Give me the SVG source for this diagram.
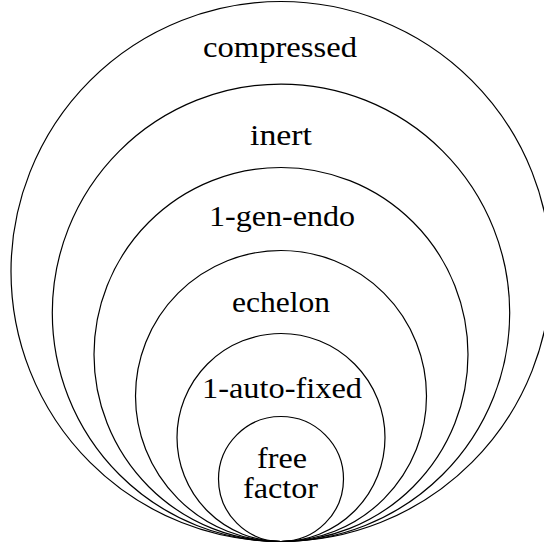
<svg xmlns="http://www.w3.org/2000/svg" width="544" height="547" viewBox="0 0 544 547">
<style>
.c{fill:none;stroke:#000;stroke-width:1.2}
.t{font-size:30px;fill:#000;text-anchor:middle}
</style>
<rect width="544" height="547" fill="#fff"/>
<g font-family="Liberation Serif, DejaVu Serif, Times New Roman, serif">
<g id="compressed"><circle class="c" cx="281" cy="271.5" r="270"/><text class="t" x="280" y="57" textLength="154" lengthAdjust="spacingAndGlyphs">compressed</text></g>
<g id="inert"><circle class="c" cx="281" cy="312.8" r="228.7"/><text class="t" x="281" y="145" textLength="62" lengthAdjust="spacingAndGlyphs">inert</text></g>
<g id="gen-endo"><circle class="c" cx="281" cy="354.5" r="187"/><text class="t" x="282" y="226" textLength="146" lengthAdjust="spacingAndGlyphs">1-gen-endo</text></g>
<g id="echelon"><circle class="c" cx="281" cy="396" r="145.5"/><text class="t" x="281" y="311.5" textLength="98" lengthAdjust="spacingAndGlyphs">echelon</text></g>
<g id="auto-fixed"><circle class="c" cx="281" cy="437.5" r="104"/><text class="t" x="282" y="398" textLength="160" lengthAdjust="spacingAndGlyphs">1-auto-fixed</text></g>
<g id="free-factor"><circle class="c" cx="281" cy="479" r="62.5"/><text class="t" x="282" y="468" textLength="50" lengthAdjust="spacingAndGlyphs">free</text><text class="t" x="280.5" y="498" textLength="75" lengthAdjust="spacingAndGlyphs">factor</text></g>
</g>
<g id="connectors"/>
</svg>
